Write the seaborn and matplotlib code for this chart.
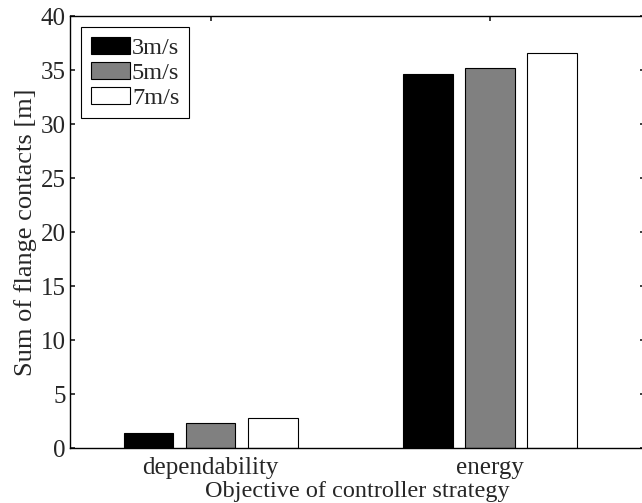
import matplotlib
matplotlib.use("Agg")
import matplotlib.pyplot as plt
import pandas as pd
import seaborn as sns

objectives = ["dependability", "energy"]
speeds = ["3m/s", "5m/s", "7m/s"]
contacts_3 = [1.4, 34.6]
contacts_5 = [2.3, 35.2]
contacts_7 = [2.8, 36.6]
bar_colors = ["#000000", "#808080", "#ffffff"]


def main() -> None:
    sns.set_theme(style="ticks")
    plt.rcParams.update(
        {
            "font.family": ["Liberation Serif", "DejaVu Serif"],
            "font.size": 18,
            "xtick.labelsize": 18,
            "ytick.labelsize": 18,
            "legend.fontsize": 17.5,
            "axes.linewidth": 1.0,
            "xtick.direction": "in",
            "ytick.direction": "in",
            "xtick.major.size": 3.6,
            "ytick.major.size": 3.6,
        }
    )

    df = pd.DataFrame(
        {
            "objective": objectives * 3,
            "speed": [s for s in speeds for _ in objectives],
            "contacts": contacts_3 + contacts_5 + contacts_7,
        }
    )

    fig = plt.figure(figsize=(6.42, 5.03), dpi=100)
    ax = fig.add_axes([0.109, 0.109, 0.896, 0.859])
    sns.barplot(
        data=df,
        x="objective",
        y="contacts",
        hue="speed",
        order=objectives,
        hue_order=speeds,
        palette=bar_colors,
        width=0.667,
        gap=0.2,
        edgecolor="black",
        linewidth=0.8,
        saturation=1,
        errorbar=None,
        ax=ax,
    )
    ax.set_xlim(-0.503, 1.555)
    ax.set_ylim(0, 40)
    ax.set_yticks(range(0, 41, 5))
    ax.set_xlabel("Objective of controller strategy", fontsize=17.5, labelpad=1.5)
    ax.set_ylabel("Sum of flange contacts [m]", fontsize=19, labelpad=3)
    ax.tick_params(top=True, right=True, pad=3)
    ax.tick_params(axis="x", pad=6.5)
    for side in ["top", "right", "left", "bottom"]:
        ax.spines[side].set_visible(True)
        ax.spines[side].set_color("black")

    leg = ax.legend(
        loc="upper left",
        title=None,
        frameon=True,
        fancybox=False,
        edgecolor="black",
        framealpha=1,
        handlelength=1.6,
        handleheight=0.7,
        handletextpad=0.1,
        labelspacing=0.12,
        borderaxespad=0.45,
        borderpad=0.4,
    )
    leg.get_frame().set_linewidth(0.8)

    fig.savefig("out.png", dpi=100)
    plt.close(fig)


if __name__ == "__main__":
    main()
